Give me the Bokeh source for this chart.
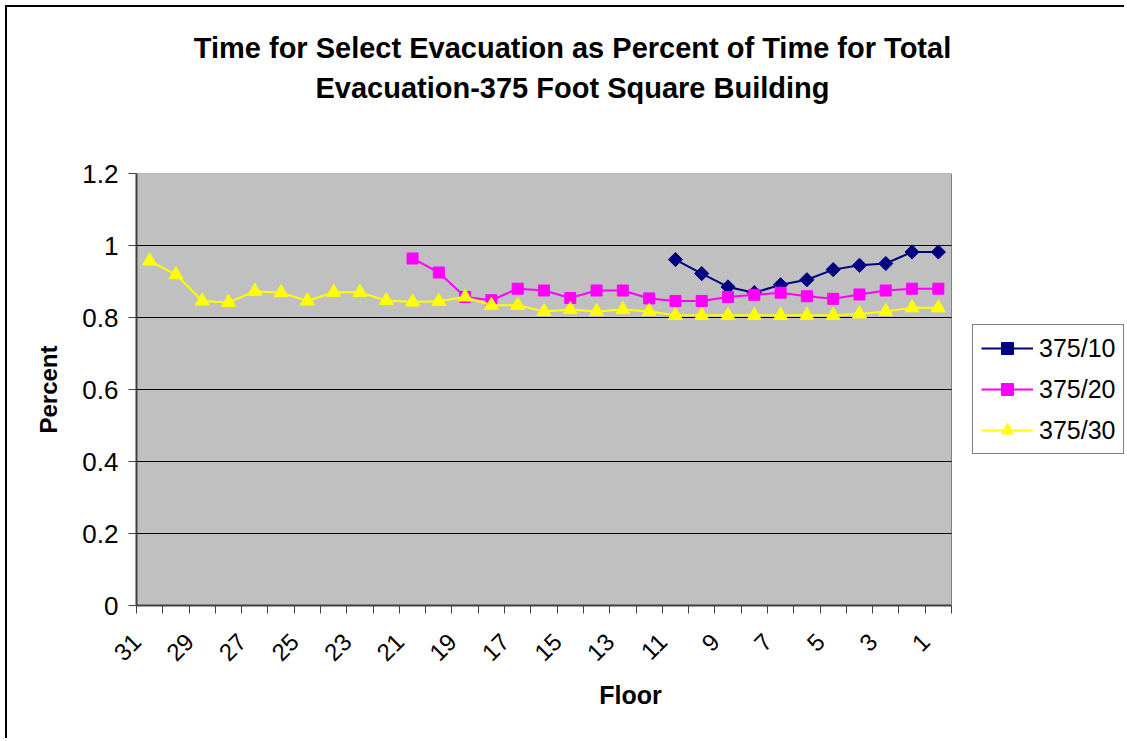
import math
from bokeh.plotting import figure
from bokeh.models import (Range1d, FixedTicker, CustomJSTickFormatter, Legend,
                          LegendItem, LinearAxis)
from bokeh.embed import file_html
from bokeh.resources import INLINE

# ---------------- data ----------------
floors_10 = list(range(11, 0, -1))
vals_10 = [0.961, 0.922, 0.885, 0.869, 0.891, 0.905, 0.933, 0.945, 0.950, 0.982, 0.982]

floors_20 = list(range(21, 0, -1))
vals_20 = [0.964, 0.925, 0.857, 0.848, 0.880, 0.875, 0.854, 0.875, 0.875, 0.853,
           0.846, 0.846, 0.857, 0.863, 0.869, 0.859, 0.852, 0.864, 0.875, 0.880, 0.880]

floors_30 = list(range(31, 0, -1))
vals_30 = [0.957, 0.919, 0.846, 0.842, 0.873, 0.869, 0.846, 0.870, 0.870, 0.847,
           0.843, 0.845, 0.857, 0.834, 0.834, 0.817, 0.822, 0.817, 0.822, 0.817,
           0.806, 0.806, 0.806, 0.806, 0.806, 0.806, 0.806, 0.810, 0.817, 0.827, 0.827]

x_label_floors = list(range(31, 0, -2))
y_ticks = [0, 0.2, 0.4, 0.6, 0.8, 1.0, 1.2]
series_names = ["375/10", "375/20", "375/30"]
title_lines = ["Time for Select Evacuation as Percent of Time for Total",
               "Evacuation-375 Foot Square Building"]

FONT = "Liberation Sans"
AXIS_GREY = "#404040"

# ---------------- layout (pixels) ----------------
W, H = 1124, 738
PLOT_L, PLOT_R, PLOT_T, PLOT_B = 136, 951, 173, 605   # grey plot area
X_HI, X_LO = 31.5, 0.5                                 # category edges
px_per_cat = (PLOT_R - PLOT_L) / (X_HI - X_LO)
x_end = X_LO - (W - PLOT_R) / px_per_cat               # frame reaches the right edge

p = figure(width=W, height=H,
           x_range=Range1d(X_HI, x_end), y_range=Range1d(0, 1.2),
           output_backend="svg", toolbar_location=None,
           min_border_left=PLOT_L, min_border_right=0,
           min_border_top=PLOT_T, min_border_bottom=H - PLOT_B,
           background_fill_color="white",
           border_fill_color="white", border_fill_alpha=0,
           outline_line_color=None)
p.title.visible = False

# chart-area border (left and top edges, as in the cropped reference)
p.styles = {
    "background-color": "white",
    "background-image": "linear-gradient(#000,#000), linear-gradient(#000,#000)",
    "background-size": "2px 100%, 100% 2px",
    "background-position": "5px 5px, 5px 5px",
    "background-repeat": "no-repeat",
}

# grey plot area with its gridlines
p.quad(left=[X_HI], right=[X_LO], bottom=[y_ticks[0]], top=[y_ticks[-1]],
       fill_color="#C0C0C0", line_color="#808080", line_width=1)
p.segment(x0=[X_HI] * len(y_ticks[1:-1]), x1=[X_LO] * len(y_ticks[1:-1]),
          y0=y_ticks[1:-1], y1=y_ticks[1:-1], line_color="black", line_width=1)
p.xgrid.visible = False
p.ygrid.visible = False

# y axis
p.yaxis.ticker = FixedTicker(ticks=y_ticks)
p.yaxis.formatter = CustomJSTickFormatter(code="return (Math.round(tick*10)/10).toString()")
p.yaxis.major_tick_out = 8
p.yaxis.major_tick_in = 0
p.yaxis.minor_tick_out = 0
p.yaxis.minor_tick_in = 0
p.yaxis.major_label_standoff = 10
p.yaxis.major_label_text_font = FONT
p.yaxis.major_label_text_font_size = "26px"
p.yaxis.major_label_text_color = "black"
p.yaxis.axis_label = "Percent"
p.yaxis.axis_label_text_font = FONT
p.yaxis.axis_label_text_font_style = "bold"
p.yaxis.axis_label_text_font_size = "24px"
p.yaxis.axis_label_text_color = "black"
p.yaxis.axis_label_standoff = 17
p.yaxis.axis_line_color = AXIS_GREY
p.yaxis.axis_line_width = 2
p.yaxis.major_tick_line_color = AXIS_GREY

# x axis: tick marks between categories, labels for every other floor
p.xaxis.bounds = (X_LO, X_HI)
p.xaxis.ticker = FixedTicker(ticks=[f + 0.49 for f in x_label_floors],
                             minor_ticks=[b + 0.5 for b in range(0, 32)])
p.xaxis.formatter = CustomJSTickFormatter(code="return Math.floor(tick).toString()")
p.xaxis.major_tick_out = 0
p.xaxis.major_tick_in = 0
p.xaxis.minor_tick_out = 8
p.xaxis.minor_tick_in = 0
p.xaxis.minor_tick_line_color = AXIS_GREY
p.xaxis.major_label_orientation = math.pi / 4
p.xaxis.major_label_standoff = 24
p.xaxis.major_label_text_font = FONT
p.xaxis.major_label_text_font_size = "24px"
p.xaxis.major_label_text_color = "black"
p.xaxis.axis_label = "Floor"
p.xaxis.axis_label_text_font = FONT
p.xaxis.axis_label_text_font_style = "bold"
p.xaxis.axis_label_text_font_size = "25px"
p.xaxis.axis_label_text_color = "black"
p.xaxis.axis_label_standoff = 10
p.xaxis.axis_line_color = AXIS_GREY
p.xaxis.axis_line_width = 2

# title carried by a bare axis above the plot; trailing em spaces move the
# centred lines left so they sit over the grey area as in the reference
pad = "\u2003" * 4
title_axis = LinearAxis(ticker=FixedTicker(ticks=[]),
                        axis_line_color=None,
                        major_tick_out=0, major_tick_in=0,
                        minor_tick_out=0, minor_tick_in=0,
                        axis_label="\n".join(t + pad for t in title_lines),
                        axis_label_standoff=70,
                        axis_label_text_font=FONT,
                        axis_label_text_font_style="bold",
                        axis_label_text_font_size="29px",
                        axis_label_text_line_height=1.23,
                        axis_label_text_color="black")
p.add_layout(title_axis, "above")

# series
l10 = p.line(floors_10, vals_10, line_color="#000080", line_width=2)
s10 = p.scatter(floors_10, vals_10, marker="square", angle=math.pi / 4, size=10,
                fill_color="#000080", line_color="#000080")
l20 = p.line(floors_20, vals_20, line_color="#FF00FF", line_width=2)
s20 = p.scatter(floors_20, vals_20, marker="square", size=11,
                fill_color="#FF00FF", line_color="#FF00FF")
l30 = p.line(floors_30, vals_30, line_color="#FFFF00", line_width=2)
s30 = p.scatter(floors_30, vals_30, marker="triangle", size=14,
                fill_color="#FFFF00", line_color="#FFFF00")

legend = Legend(items=[LegendItem(label=series_names[0], renderers=[l10, s10]),
                       LegendItem(label=series_names[1], renderers=[l20, s20]),
                       LegendItem(label=series_names[2], renderers=[l30, s30])],
                location=(972 - PLOT_L, PLOT_B - 454),
                border_line_color="black", border_line_width=1,
                background_fill_color="white", background_fill_alpha=1,
                label_text_font=FONT, label_text_font_size="25px",
                label_text_color="black",
                glyph_width=52, glyph_height=30, label_height=30,
                spacing=11, padding=8, margin=0, label_standoff=6)
p.add_layout(legend)

open("out.html", "w").write(file_html(p, INLINE))
